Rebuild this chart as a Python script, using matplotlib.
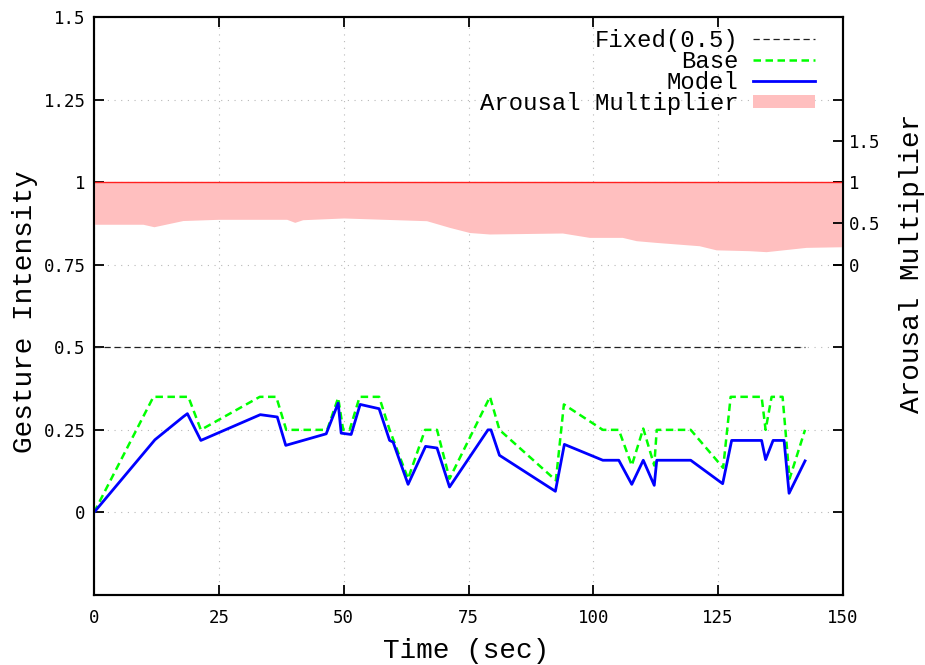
import matplotlib.pyplot as plt
from matplotlib.patches import Patch

# Gesture intensity series (time in sec)
base_t = [0, 11.9, 18.9, 21.4, 33.2, 36.5, 38.5, 46.7, 48.9, 49.9, 51.2, 53.2,
          57.1, 59.2, 62.9, 66.3, 68.7, 71.2, 79.3, 81.2, 92.5, 94.1, 101.9,
          105.1, 107.7, 110.0, 112.2, 112.7, 119.5, 126.0, 127.5, 133.7, 134.5,
          135.7, 137.9, 139.3, 142.4]
base_y = [0, 0.35, 0.35, 0.25, 0.35, 0.35, 0.25, 0.25, 0.347, 0.25, 0.25, 0.35,
          0.35, 0.25, 0.102, 0.25, 0.25, 0.102, 0.35, 0.25, 0.097, 0.327, 0.25,
          0.25, 0.142, 0.254, 0.142, 0.25, 0.25, 0.135, 0.35, 0.35, 0.25,
          0.35, 0.35, 0.102, 0.25]

model_t = [0, 12.2, 17.9, 18.7, 21.4, 33.3, 36.7, 38.4, 46.5, 48.9, 49.5, 51.5,
           53.3, 57.1, 59.2, 59.9, 62.9, 66.4, 68.7, 71.2, 78.9, 79.5, 81.2,
           92.4, 94.2, 101.9, 105.1, 107.7, 110.0, 112.2, 112.7, 119.5, 125.9,
           127.7, 133.7, 134.5, 136.0, 138.2, 139.2, 142.4]
model_y = [0, 0.22, 0.29, 0.299, 0.218, 0.296, 0.289, 0.203, 0.238, 0.331, 0.24,
           0.236, 0.327, 0.314, 0.218, 0.213, 0.085, 0.2, 0.195, 0.077, 0.25,
           0.25, 0.173, 0.064, 0.206, 0.158, 0.158, 0.085, 0.158, 0.082, 0.158,
           0.158, 0.087, 0.218, 0.218, 0.16, 0.218, 0.218, 0.058, 0.156]

fixed_t = [0, 142.4]
fixed_y = [0.5, 0.5]

# Arousal multiplier (right axis)
arousal_t = [0, 9.8, 12, 17.8, 25, 38.6, 40.2, 41.8, 50, 66.6, 71.2, 75.2, 79.2,
             93.8, 99.2, 105.8, 108.6, 112.6, 121.2, 124.6, 131.2, 134.6, 142.6, 150]
arousal_v = [0.49, 0.49, 0.46, 0.535, 0.55, 0.55, 0.513, 0.545, 0.566, 0.533,
             0.452, 0.39, 0.372, 0.384, 0.331, 0.331, 0.291, 0.27, 0.23, 0.18,
             0.17, 0.158, 0.21, 0.218]

x_ticks = [0, 25, 50, 75, 100, 125, 150]
y_ticks = [0, 0.25, 0.5, 0.75, 1, 1.25, 1.5]
y_tick_labels = ["0", "0.25", "0.5", "0.75", "1", "1.25", "1.5"]
y2_ticks = [0, 0.5, 1, 1.5]
y2_tick_labels = ["0", "0.5", "1", "1.5"]

label_font = "Liberation Mono"
tick_font = "DejaVu Sans Mono"

fig = plt.figure(figsize=(9.25, 6.65), dpi=100)
ax = fig.add_axes([94 / 925, 1 - 595 / 665, 749 / 925, 578 / 665])
ax2 = ax.twinx()

ax.grid(True, color="#b8b8b8", linestyle=(0, (1, 5)), linewidth=0.8)
l_fixed, = ax.plot(fixed_t, fixed_y, color="#202020", linewidth=0.9,
                   linestyle=(0, (5, 3)), label="Fixed(0.5)")
l_base, = ax.plot(base_t, base_y, color="#00ff00", linewidth=1.8,
                  linestyle=(0, (3, 1.8)), label="Base")
l_model, = ax.plot(model_t, model_y, color="#0000ff", linewidth=2.0, label="Model")

ax2.fill_between(arousal_t, arousal_v, 1, color="#ffbfbf", linewidth=0)
ax2.axhline(1, color="#ff2020", linewidth=1.0)
p_arousal = Patch(facecolor="#ffbfbf", edgecolor="none", label="Arousal Multiplier")

ax.set_xlim(0, 150)
ax.set_ylim(-0.25, 1.5)
ax2.set_ylim(-4, 3)

ax.set_xticks(x_ticks)
ax.set_xticklabels([str(v) for v in x_ticks], fontfamily=tick_font, fontsize=12.5)
ax.set_yticks(y_ticks)
ax.set_yticklabels(y_tick_labels, fontfamily=tick_font, fontsize=12.5)
ax2.set_yticks(y2_ticks)
ax2.set_yticklabels(y2_tick_labels, fontfamily=tick_font, fontsize=12.5)

ax.tick_params(axis="both", direction="in", length=7.5, width=1.3,
               top=True, right=True, colors="black")
ax.tick_params(axis="x", pad=10)
ax.tick_params(axis="y", pad=6)
ax2.tick_params(axis="y", direction="in", length=7.5, width=1.3, pad=4)

for a in (ax, ax2):
    for sp in a.spines.values():
        sp.set_linewidth(1.5)

ax.set_xlabel("Time (sec)", fontfamily=label_font, fontsize=20, va="center")
ax.xaxis.set_label_coords(0.497, -0.097)
ax.set_ylabel("Gesture Intensity", fontfamily=label_font, fontsize=20, va="center")
ax.yaxis.set_label_coords(-0.092, 0.491)
ax2.set_ylabel("Arousal Multiplier", fontfamily=label_font, fontsize=20, va="center")
ax2.yaxis.set_label_coords(1.092, 0.574)

leg = ax2.legend([l_fixed, l_base, l_model, p_arousal],
                 ["Fixed(0.5)", "Base", "Model", "Arousal Multiplier"],
                 loc="upper right", bbox_to_anchor=(0.963, 0.98),
                 markerfirst=False, frameon=False, borderpad=0, borderaxespad=0,
                 handlelength=2.6, handletextpad=0.62, handleheight=0.45,
                 labelspacing=-0.08, prop={"family": label_font, "size": 17.2})

fig.savefig("out.png", dpi=100)
